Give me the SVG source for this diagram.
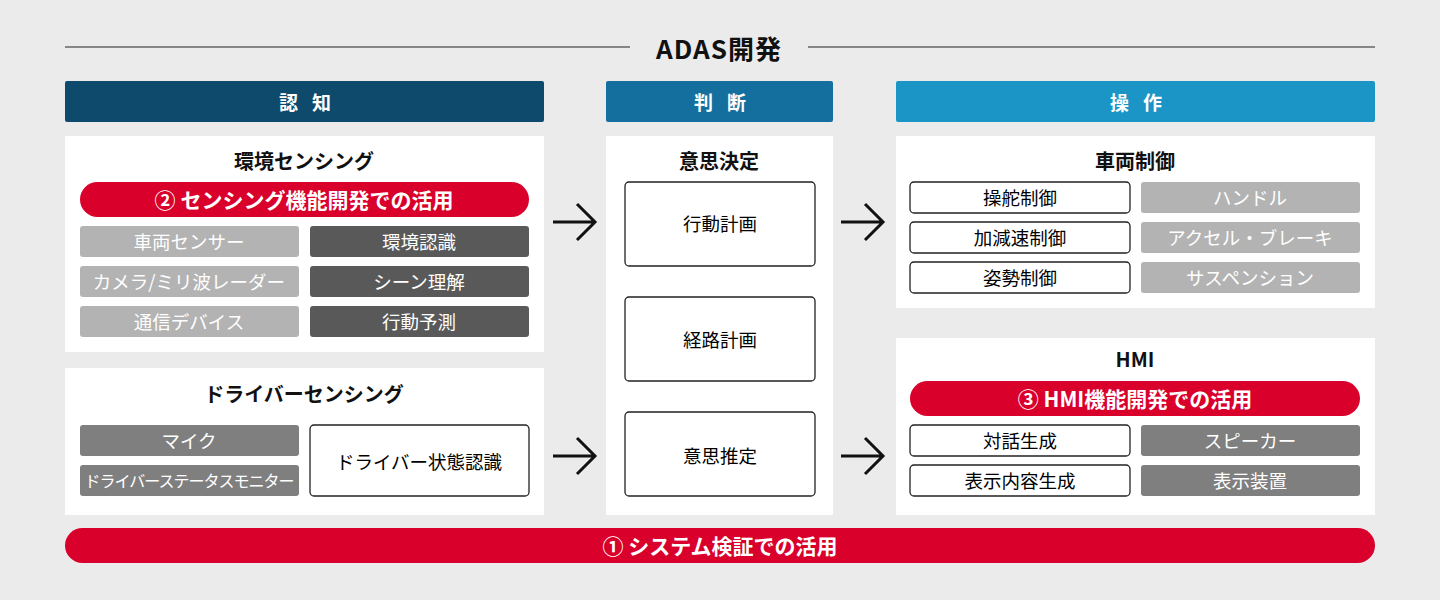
<svg xmlns="http://www.w3.org/2000/svg" width="1440" height="600" viewBox="0 0 1440 600">
<style>
text{font-family:"Noto Sans CJK JP","Noto Sans",sans-serif;text-anchor:middle;dominant-baseline:central}
.t{font-size:20px;font-weight:700;fill:#111}
.c{font-size:18.5px}
.w{fill:#fff}
.lg{fill:#b3b3b3}
.dg{fill:#595959}
.mg{fill:#7f7f7f}
.ob{fill:#fff;stroke:#222;stroke-width:1.3}
.red{fill:#d9002b}
.rt{font-size:21px;font-weight:700;fill:#fff}
.hd{font-size:19px;font-weight:700;fill:#fff;letter-spacing:14px}
.ar{fill:none;stroke:#111;stroke-width:3}
</style>
<rect width="1440" height="600" fill="#ebebeb"/>
<g id="title">
<line x1="65" y1="47" x2="630" y2="47" stroke="#222" stroke-width="1.2"/>
<line x1="808" y1="47" x2="1375" y2="47" stroke="#222" stroke-width="1.2"/>
<text x="719" y="47" style="font-size:26px;font-weight:700;fill:#111;letter-spacing:1px">ADAS開発</text>
</g>
<g id="headers">
<rect x="65" y="81" width="479" height="41" fill="#0e4a6b" rx="2"/><text class="hd" x="312" y="101">認知</text>
<rect x="606" y="81" width="227" height="41" fill="#156f9e" rx="2"/><text class="hd" x="727" y="101">判断</text>
<rect x="896" y="81" width="479" height="41" fill="#1b95c5" rx="2"/><text class="hd" x="1143" y="101">操作</text>
</g>
<g id="env">
<rect x="65" y="136" width="479" height="216" fill="#fff"/>
<text class="t" x="304" y="160">環境センシング</text>
<rect class="red" x="80" y="182" width="449" height="35" rx="17.5"/><text class="rt" x="304" y="199">② センシング機能開発での活用</text>
<rect class="lg" x="80" y="226" width="219" height="31" rx="3"/><text class="c w" x="189" y="241">車両センサー</text>
<rect class="lg" x="80" y="266" width="219" height="31" rx="3"/><text class="c w" x="189" y="281">カメラ/ミリ波レーダー</text>
<rect class="lg" x="80" y="306" width="219" height="31" rx="3"/><text class="c w" x="189" y="321">通信デバイス</text>
<rect class="dg" x="310" y="226" width="219" height="31" rx="3"/><text class="c w" x="419" y="241">環境認識</text>
<rect class="dg" x="310" y="266" width="219" height="31" rx="3"/><text class="c w" x="419" y="281">シーン理解</text>
<rect class="dg" x="310" y="306" width="219" height="31" rx="3"/><text class="c w" x="419" y="321">行動予測</text>
</g>
<g id="driver">
<rect x="65" y="368" width="479" height="147" fill="#fff"/>
<text class="t" x="304" y="393">ドライバーセンシング</text>
<rect class="mg" x="80" y="425" width="219" height="31" rx="3"/><text class="c w" x="189" y="440">マイク</text>
<rect class="mg" x="80" y="465" width="219" height="31" rx="3"/><text class="w" x="189" y="480" style="font-size:16px;letter-spacing:-1px">ドライバーステータスモニター</text>
<rect class="ob" x="310" y="425" width="219" height="71" rx="4"/><text class="c" x="419" y="461">ドライバー状態認識</text>
</g>
<g id="decision">
<rect x="606" y="136" width="227" height="379" fill="#fff"/>
<text class="t" x="719" y="160">意思決定</text>
<rect class="ob" x="625" y="182" width="190" height="84" rx="4"/><text class="c" x="720" y="223">行動計画</text>
<rect class="ob" x="625" y="297" width="190" height="84" rx="4"/><text class="c" x="720" y="339">経路計画</text>
<rect class="ob" x="625" y="412" width="190" height="84" rx="4"/><text class="c" x="720" y="455">意思推定</text>
</g>
<g id="vehicle">
<rect x="896" y="136" width="479" height="172" fill="#fff"/>
<text class="t" x="1135" y="160">車両制御</text>
<rect class="ob" x="910" y="182" width="220" height="31" rx="4"/><text class="c" x="1020" y="197">操舵制御</text>
<rect class="ob" x="910" y="222" width="220" height="31" rx="4"/><text class="c" x="1020" y="237">加減速制御</text>
<rect class="ob" x="910" y="262" width="220" height="31" rx="4"/><text class="c" x="1020" y="277">姿勢制御</text>
<rect class="lg" x="1141" y="182" width="219" height="31" rx="3"/><text class="c w" x="1250" y="197">ハンドル</text>
<rect class="lg" x="1141" y="222" width="219" height="31" rx="3"/><text class="c w" x="1250" y="237">アクセル・ブレーキ</text>
<rect class="lg" x="1141" y="262" width="219" height="31" rx="3"/><text class="c w" x="1250" y="277">サスペンション</text>
</g>
<g id="hmi">
<rect x="896" y="338" width="479" height="177" fill="#fff"/>
<text class="t" x="1135" y="358">HMI</text>
<rect class="red" x="910" y="381" width="450" height="35" rx="17.5"/><text class="rt" x="1135" y="398">③ HMI機能開発での活用</text>
<rect class="ob" x="910" y="425" width="220" height="31" rx="4"/><text class="c" x="1020" y="440">対話生成</text>
<rect class="ob" x="910" y="465" width="220" height="31" rx="4"/><text class="c" x="1020" y="480">表示内容生成</text>
<rect class="mg" x="1141" y="425" width="219" height="31" rx="3"/><text class="c w" x="1250" y="440">スピーカー</text>
<rect class="mg" x="1141" y="465" width="219" height="31" rx="3"/><text class="c w" x="1250" y="480">表示装置</text>
</g>
<g id="connectors">
<path class="ar" d="M553 222H595M577 204L595 222L577 240"/>
<path class="ar" d="M553 456H595M577 438L595 456L577 474"/>
<path class="ar" d="M841 222H883M865 204L883 222L865 240"/>
<path class="ar" d="M841 456H883M865 438L883 456L865 474"/>
</g>
<g id="bottom">
<rect class="red" x="65" y="528" width="1310" height="35" rx="17.5"/><text class="rt" x="720" y="545">① システム検証での活用</text>
</g>
</svg>
